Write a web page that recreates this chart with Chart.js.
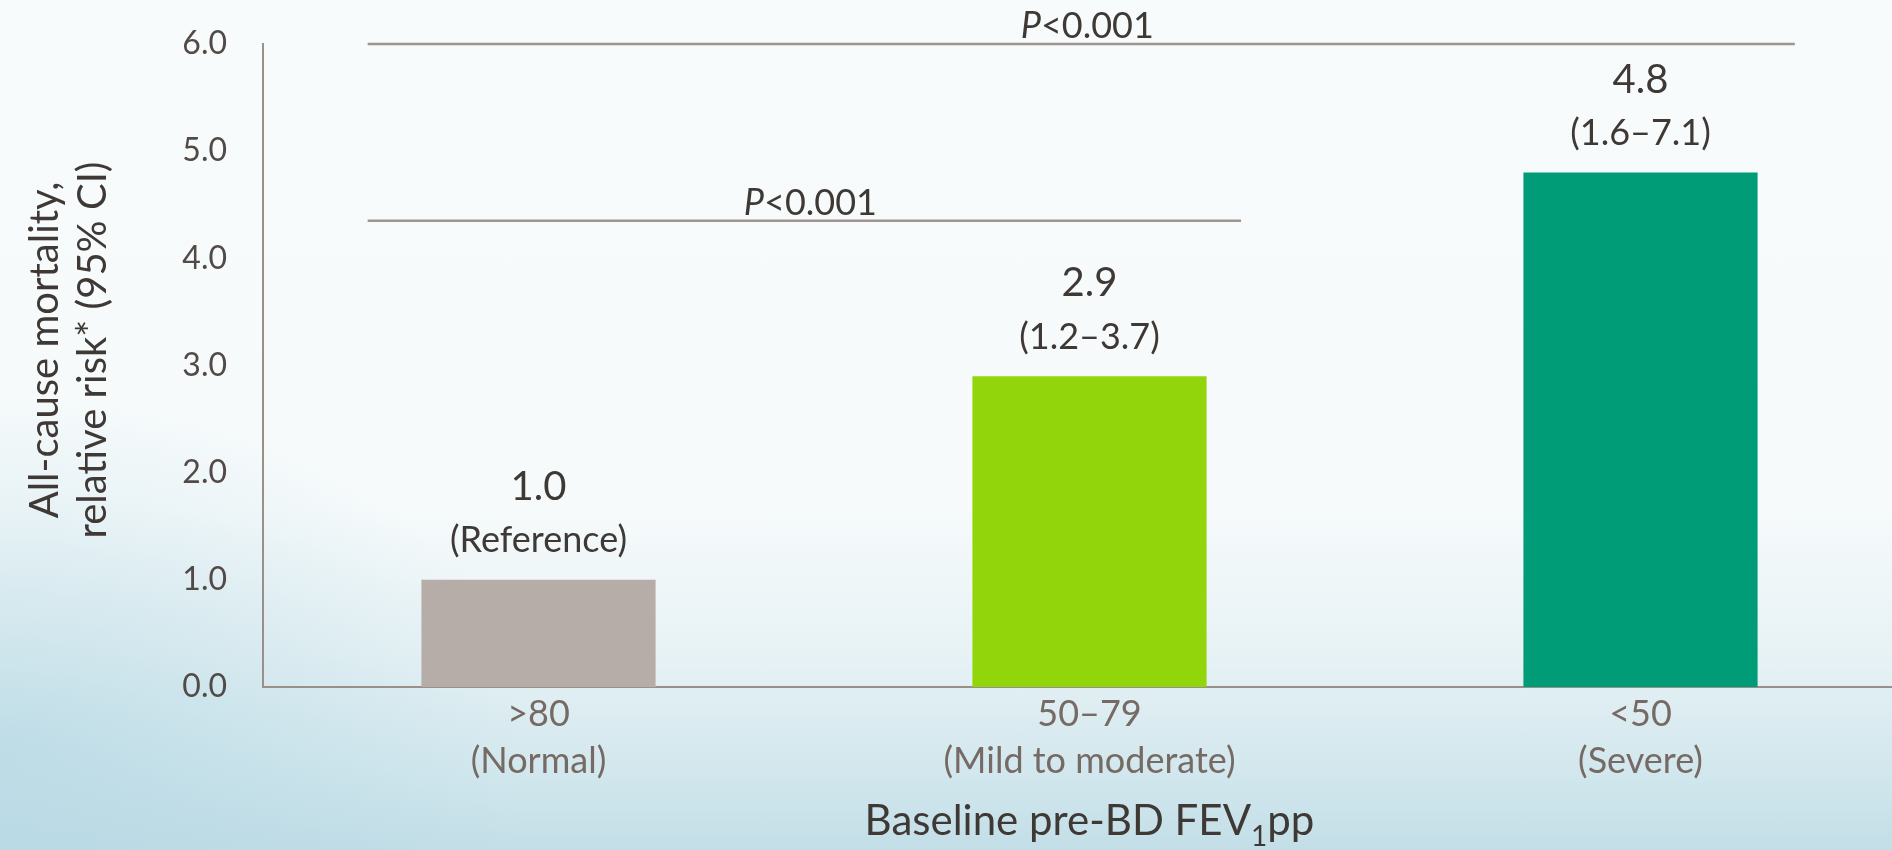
<!DOCTYPE html>
<html>
<head>
<meta charset="utf-8">
<title>All-cause mortality by baseline FEV1pp</title>
<script src="https://cdn.jsdelivr.net/npm/chart.js@4.4.1/dist/chart.umd.min.js"></script>
<style>
  html, body { margin: 0; padding: 0; width: 1892px; height: 850px; overflow: hidden; }
  body {
    background:
      radial-gradient(ellipse 28% 42% at 0% 88%, rgba(170, 210, 224, 0.55), rgba(170, 210, 224, 0) 100%),
      linear-gradient(to bottom, #f8fbfc 0%, #f6fafb 60%, #e7f2f5 77%, #d0e6ed 92%, #c3dee7 100%);
  }
  #wrap { width: 1920px; height: 850px; }
</style>
</head>
<body>
<div id="wrap"><canvas id="grafico" width="1920" height="850"></canvas></div>
<script>
// categorias de FEV1pp basal e risco relativo de mortalidade
const categorias = [['>80', '(Normal)'], ['50–79', '(Mild to moderate)'], ['<50', '(Severe)']];
const riscoRelativo = [1.0, 2.9, 4.8];
const intervalos = ['(Reference)', '(1.2–3.7)', '(1.6–7.1)'];
const valoresP = ['<0.001', '<0.001'];
const ticksY = [0, 1, 2, 3, 4, 5, 6];

const cores = ['#b7ada8', '#92d50b', '#009b77'];

// linhas de comparação (posição em unidades de categoria / eixo y)
const comparacoes = [
  { de: -0.31, ate: 2.28, nivel: 6.0 },
  { de: -0.31, ate: 1.275, nivel: 4.35 }
];

const corTexto = '#3f3936';

const anotacoes = {
  id: 'anotacoes',
  afterDatasetsDraw(chart) {
    const { ctx, scales: { x, y } } = chart;
    const meta = chart.getDatasetMeta(0);
    ctx.save();
    ctx.fillStyle = corTexto;
    ctx.textAlign = 'center';
    ctx.textBaseline = 'middle';

    // valor + IC em cima de cada barra
    meta.data.forEach((barra, i) => {
      ctx.font = '40px Lato';
      ctx.fillText(riscoRelativo[i].toFixed(1), barra.x, barra.y - 93);
      ctx.font = '36px Lato';
      ctx.fillText(intervalos[i], barra.x, barra.y - 39);
    });

    // barras de significância
    comparacoes.forEach((c, i) => {
      const x0 = x.getPixelForValue(c.de);
      const x1 = x.getPixelForValue(c.ate);
      const yy = y.getPixelForValue(c.nivel);
      ctx.strokeStyle = '#a0948f';
      ctx.lineWidth = 2.5;
      ctx.beginPath();
      ctx.moveTo(x0, yy);
      ctx.lineTo(x1, yy);
      ctx.stroke();

      ctx.textBaseline = 'alphabetic';
      ctx.textAlign = 'left';
      ctx.font = 'italic 36px Lato';
      const wP = ctx.measureText('P').width;
      ctx.font = '36px Lato';
      const wResto = ctx.measureText(valoresP[i]).width;
      const inicio = (x0 + x1) / 2 + 6 - (wP + wResto) / 2;
      ctx.font = 'italic 36px Lato';
      ctx.fillText('P', inicio, yy - 6);
      ctx.font = '36px Lato';
      ctx.fillText(valoresP[i], inicio + wP, yy - 6);
    });

    // título do eixo y (duas linhas, rotacionado)
    ctx.save();
    ctx.translate(0, 350);
    ctx.rotate(-Math.PI / 2);
    ctx.textAlign = 'center';
    ctx.textBaseline = 'middle';
    ctx.font = '40px Lato';
    ctx.fillText('All-cause mortality,', 0, 45);
    ctx.fillText('relative risk* (95% CI)', 0, 93);
    ctx.restore();

    // título do eixo x com subscrito
    const partes = [['Baseline pre-BD FEV', '42px Lato', 0], ['1', '28px Lato', 11], ['pp', '42px Lato', 0]];
    let total = 0;
    partes.forEach(p => { ctx.font = p[1]; total += ctx.measureText(p[0]).width; });
    let px = x.getPixelForValue(1) - total / 2;
    ctx.textAlign = 'left';
    ctx.textBaseline = 'alphabetic';
    partes.forEach(p => {
      ctx.font = p[1];
      ctx.fillText(p[0], px, 835 + p[2]);
      px += ctx.measureText(p[0]).width;
    });
    ctx.restore();
  }
};

function desenhar() {
  const ctx = document.getElementById('grafico').getContext('2d');
  new Chart(ctx, {
    type: 'bar',
    data: {
      labels: categorias,
      datasets: [{
        label: 'All-cause mortality, relative risk',
        data: riscoRelativo,
        backgroundColor: cores,
        borderWidth: 0,
        barPercentage: 0.425,
        categoryPercentage: 1.0
      }]
    },
    options: {
      responsive: false,
      animation: false,
      layout: { padding: { top: 44, right: 4, left: 0, bottom: 0 } },
      plugins: { legend: { display: false }, tooltip: { enabled: false } },
      scales: {
        x: {
          grid: { display: false, drawTicks: false },
          border: { display: true, color: '#9b8f8a', width: 2 },
          ticks: {
            color: '#766a64',
            font: { family: 'Lato', size: 36, lineHeight: 1.33 },
            padding: 3,
            maxRotation: 0,
            autoSkip: false
          },
          afterFit(scale) { scale.height = 163; }
        },
        y: {
          min: ticksY[0],
          max: ticksY[ticksY.length - 1],
          grid: { display: false, drawTicks: false },
          border: { display: true, color: '#9b8f8a', width: 2 },
          ticks: {
            stepSize: 1,
            color: '#524a47',
            font: { family: 'Lato', size: 32 },
            padding: 36,
            callback: v => Number(v).toFixed(1)
          },
          afterFit(scale) {
            scale.width = 263;
            scale.paddingTop = 0;
            scale.paddingBottom = 0;
          }
        }
      }
    },
    plugins: [anotacoes]
  });
}

Promise.all(['40px Lato', 'italic 36px Lato', '32px Lato'].map(f => document.fonts.load(f)))
  .then(desenhar, desenhar);
</script>
</body>
</html>
